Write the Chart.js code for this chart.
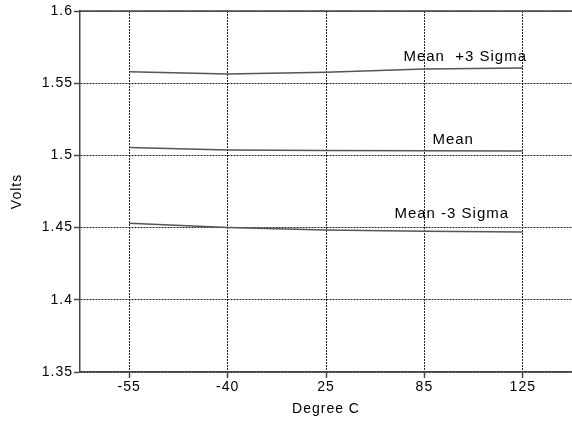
<!DOCTYPE html>
<html>
<head>
<meta charset="utf-8">
<script src="https://cdn.jsdelivr.net/npm/chart.js@4/dist/chart.umd.min.js"></script>
<style>
    body { margin: 0; background: #fff; }
    #wrap { width: 572px; height: 421px; }
</style>
</head>
<body>
<div id="wrap"><canvas id="lineChart" width="572" height="421"></canvas></div>
<script>
// Datos
var temperaturas = ['-55', '-40', '25', '85', '125'];
var masTresSigma = [1.5580, 1.5563, 1.5575, 1.5598, 1.5606];
var media = [1.5055, 1.5038, 1.5034, 1.5032, 1.5031];
var menosTresSigma = [1.4530, 1.4500, 1.4484, 1.4474, 1.4470];
var nombresSeries = ['Mean  +3 Sigma', 'Mean', 'Mean -3 Sigma'];
var ticksVolts = [1.35, 1.4, 1.45, 1.5, 1.55, 1.6];

var fuente = '"Liberation Sans", Arial, Helvetica, sans-serif';

// Espaciado de letras como en la imagen original
var espaciadoPlugin = {
    id: 'espaciado',
    beforeDraw: function (chart) {
        chart.ctx.letterSpacing = '1px';
    }
};

// Dibuja el borde superior y las etiquetas de cada serie
var etiquetasPlugin = {
    id: 'etiquetas',
    afterDatasetsDraw: function (chart) {
        var ctx = chart.ctx;
        var area = chart.chartArea;
        var x = chart.scales.x;
        var y = chart.scales.y;

        ctx.save();
        ctx.strokeStyle = '#444';
        ctx.lineWidth = 1.5;
        ctx.beginPath();
        ctx.moveTo(area.left, area.top);
        ctx.lineTo(area.right, area.top);
        ctx.stroke();

        ctx.font = '15px ' + fuente;
        ctx.letterSpacing = '1px';
        ctx.fillStyle = '#000';
        ctx.textBaseline = 'middle';
        ctx.textAlign = 'left';
        var desplX = [-21, 8, -30];
        var desplY = [-11, -11.5, -18];
        var series = [masTresSigma, media, menosTresSigma];
        for (var i = 0; i < series.length; i++) {
            var ultimo = series[i][series[i].length - 1];
            ctx.fillText(nombresSeries[i], x.getPixelForValue(3) + desplX[i], y.getPixelForValue(ultimo) + desplY[i]);
        }
        ctx.restore();
    }
};

function serie(nombre, datos) {
    return {
        label: nombre,
        data: datos,
        borderColor: '#555',
        borderWidth: 1.5,
        pointRadius: 0,
        tension: 0,
        fill: false
    };
}

var ctx = document.getElementById('lineChart').getContext('2d');
var lineChart = new Chart(ctx, {
    type: 'line',
    data: {
        labels: temperaturas,
        datasets: [
            serie(nombresSeries[0], masTresSigma),
            serie(nombresSeries[1], media),
            serie(nombresSeries[2], menosTresSigma)
        ]
    },
    options: {
        responsive: false,
        animation: false,
        layout: { padding: { top: 11, right: 0, left: 0, bottom: 0 } },
        plugins: {
            legend: { display: false },
            tooltip: { enabled: false }
        },
        scales: {
            x: {
                type: 'category',
                offset: true,
                afterFit: function (scale) { scale.height = 49; },
                grid: {
                    color: '#222',
                    lineWidth: 1,
                    tickLength: 6,
                    tickColor: '#444',
                    tickWidth: 1.5
                },
                border: { color: '#444', width: 1.5, dash: [2, 1] },
                ticks: {
                    color: '#000',
                    padding: 1,
                    maxRotation: 0,
                    font: { family: fuente, size: 14 }
                },
                title: {
                    display: true,
                    text: 'Degree C',
                    color: '#000',
                    padding: { top: 0, bottom: 3 },
                    font: { family: fuente, size: 14 }
                }
            },
            y: {
                min: ticksVolts[0],
                max: ticksVolts[ticksVolts.length - 1],
                afterFit: function (scale) { scale.width = 80; },
                afterBuildTicks: function (scale) {
                    scale.ticks = ticksVolts.map(function (v) { return { value: v }; });
                },
                grid: {
                    color: '#222',
                    lineWidth: 1,
                    tickLength: 6,
                    tickColor: '#444',
                    tickWidth: 1.5
                },
                border: { color: '#444', width: 1.5, dash: [2, 1] },
                ticks: {
                    color: '#000',
                    padding: 1,
                    font: { family: fuente, size: 14 },
                    callback: function (v) { return String(Math.round(v * 100) / 100); }
                },
                title: {
                    display: true,
                    text: 'Volts',
                    color: '#000',
                    padding: { top: 9, bottom: 0 },
                    font: { family: fuente, size: 14 }
                }
            }
        }
    },
    plugins: [espaciadoPlugin, etiquetasPlugin]
});
</script>
</body>
</html>
